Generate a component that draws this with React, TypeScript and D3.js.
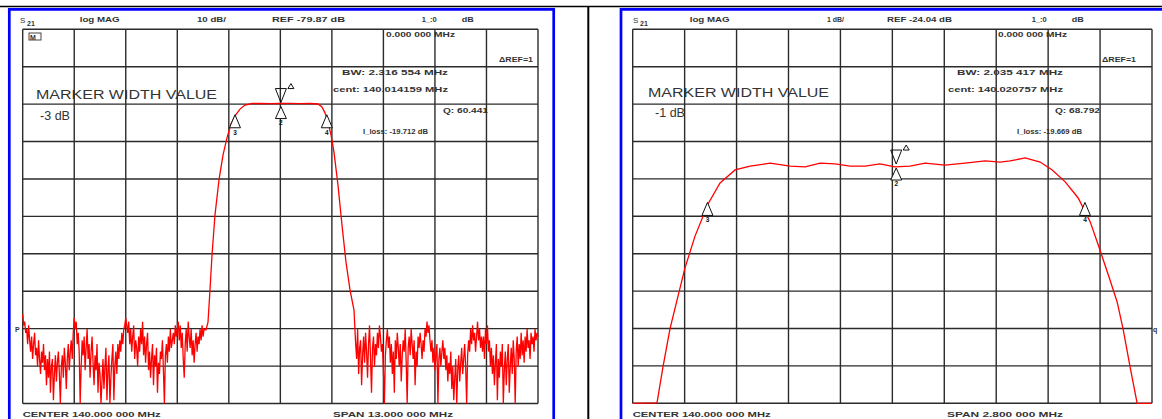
import React from 'react';
import * as d3 from 'd3';

// ---------- DATA ----------
// Left panel: 10 dB/div, REF -79.87 dB, center 140 MHz, span 13 MHz
const leftCenter = 140.0;
const leftSpan = 13.0;
const leftDbPerDiv = 10;
const leftRef = -79.87;
const noiseStep = 0.025;
const leftNoiseStart = 133.5;
const leftNoiseDb = [
  -76, -79, -78, -81, -80, -84, -79, -83, -86, -82, -88, -84, -81, -87, -85, -90, -83, -88, -92, -86, -89, -84, -91, -87, -95, -88,
  -93, -86, -97, -90, -88, -99, -92, -87, -94, -89, -86, -92, -100, -90, -87, -93, -85, -89, -96, -88, -84, -91, -86, -83, -88, -81,
  -77, -80, -78, -84, -81, -86, -100, -90, -83, -87, -82, -91, -85, -80, -88, -84, -93, -86, -82, -89, -95, -87, -91, -84, -97, -89,
  -92, -100, -94, -88, -96, -90, -85, -99, -91, -87, -100, -93, -88, -84, -99, -90, -86, -92, -84, -88, -83, -86, -81, -84, -80, -79,
  -77, -79, -81, -78, -84, -80, -86, -82, -79, -88, -83, -85, -90, -82, -86, -80, -84, -78, -87, -82, -89, -84, -81, -91, -86, -93,
  -88, -84, -95, -87, -90, -85, -97, -89, -92, -86, -88, -83, -91, -100, -87, -84, -89, -82, -86, -80, -85, -83, -81, -84, -79, -82,
  -80, -78, -83, -79, -85, -81, -88, -93, -84, -80, -86, -78, -82, -85, -80, -87, -83, -89, -84, -81, -86, -82, -84, -80, -83, -79, -82, -80,
];
const leftSkirtFreq = [138.124, 138.175, 138.225, 138.276, 138.351, 138.452, 138.553, 138.654, 138.755, 138.856, 138.982, 139.108, 139.285, 139.5, 139.75, 140.0, 140.25, 140.5, 140.75, 140.95, 141.05, 141.126, 141.2, 141.278, 141.353, 141.454, 141.555, 141.656, 141.757, 141.858];
const leftSkirtDb = [-80.2, -78.1, -69.5, -60.2, -49.5, -40.1, -33.5, -28.9, -25.2, -23.0, -21.2, -20.1, -19.7, -19.68, -19.72, -19.7, -19.69, -19.72, -19.7, -19.83, -20.6, -22.2, -24.6, -28.1, -32.7, -41.5, -52.2, -62.1, -69.5, -74.9];
const rightNoiseStart = 141.9;
const rightNoiseDb = [
  -84, -88, -80, -92, -85, -83, -95, -87, -82, -89, -81, -86, -93, -84, -79, -88, -97, -85, -82, -90, -84, -87, -81, -85,
  -79, -82, -86, -84, -91, -100, -87, -83, -80, -85, -82, -89, -84, -92, -86, -97, -83, -88, -81, -85, -90, -84, -94, -87, -83, -86,
  -80, -89, -100, -85, -82, -87, -80, -84, -88, -83, -95, -86, -90, -82, -85, -81, -84, -88, -83, -86, -80, -82, -78, -81, -79, -83,
  -86, -83, -89, -85, -91, -87, -84, -100, -88, -85, -90, -86, -83, -88, -85, -91, -87, -94, -89, -92, -86, -96, -90, -99, -93, -88,
  -100, -91, -87, -94, -89, -85, -92, -88, -84, -90, -100, -87, -83, -86, -80, -84, -79, -83, -81, -86, -82, -78, -83, -80, -85, -82,
  -86, -82, -88, -80, -84, -79, -86, -83, -90, -85, -92, -87, -95, -89, -84, -99, -88, -93, -86, -90, -84, -100, -91, -86, -95, -88,
  -84, -97, -90, -85, -92, -83, -88, -100, -86, -82, -90, -84, -88, -81, -87, -83, -89, -82, -86, -80, -85, -83, -88, -81, -84, -82,
  -86, -80, -83, -81, -82,
];

// Right panel: 1 dB/div, REF -24.04 dB, center 140 MHz, span 2.8 MHz
const rightCenter = 140.0;
const rightSpan = 2.8;
const rightDbPerDiv = 1;
const rightRef = -24.04;
const rightFreq = [138.6, 138.731, 138.763, 138.801, 138.839, 138.882, 138.936, 139.006, 139.071, 139.152, 139.233, 139.341, 139.449, 139.53, 139.61, 139.691, 139.772, 139.853, 139.933, 140.014, 140.095, 140.177, 140.284, 140.392, 140.5, 140.581, 140.635, 140.716, 140.797, 140.862, 140.932, 141.002, 141.067, 141.12, 141.174, 141.212, 141.244, 141.282, 141.32, 141.4];
const rightDb = [-26.04, -26.03, -25.07, -24.05, -23.28, -22.42, -21.57, -20.71, -20.15, -19.8, -19.7, -19.62, -19.7, -19.72, -19.62, -19.64, -19.7, -19.7, -19.64, -19.72, -19.7, -19.62, -19.67, -19.62, -19.56, -19.59, -19.56, -19.48, -19.59, -19.8, -20.12, -20.55, -21.19, -21.95, -22.75, -23.33, -24.05, -25.07, -26.04, -26.04];

// Marker readouts
const leftBW = 2.316554;
const leftCent = 140.014159;
const leftQ = '60.441';
const leftLoss = -19.712;
const leftWidthValue = -3;
const rightBW = 2.035417;
const rightCent = 140.020757;
const rightQ = '68.792';
const rightLoss = -19.669;
const rightWidthValue = -1;

const markerLabels = ['1', '2', '3', '4'];

// ---------- COMPONENT ----------
const FONT = '"Liberation Sans", Arial, sans-serif';
const RED = '#ff0000';
const GRID = '#2b2b2b';
const TXT = '#333';

type PanelProps = {
  gx0: number; gx1: number; gy0: number; gy1: number;
  center: number; span: number; dbPerDiv: number; refDb: number;
  trace: [number, number][];
  bw: number; cent: number; loss: number; widthValue: number;
  texts: { s: string; x: number; w: number; y: number; size?: number; weight?: string }[];
};

function Panel(p: PanelProps) {
  const fMin = p.center - p.span / 2;
  const fMax = p.center + p.span / 2;
  const dbTop = p.refDb + 8 * p.dbPerDiv;
  const dbBot = p.refDb - 2 * p.dbPerDiv;
  const x = d3.scaleLinear().domain([fMin, fMax]).range([p.gx0, p.gx1]);
  const y = d3.scaleLinear().domain([dbBot, dbTop]).range([p.gy1, p.gy0]).clamp(true);
  const line = d3.line<[number, number]>().x(d => x(d[0])).y(d => y(d[1]));
  const divs = d3.range(11);
  const markerDb = p.loss + p.widthValue;
  const m3 = p.cent - p.bw / 2;
  const m4 = p.cent + p.bw / 2;
  const up = (cx: number, cy: number, w: number, h: number) => `M${cx},${cy}L${cx - w / 2},${cy + h}L${cx + w / 2},${cy + h}Z`;
  const down = (cx: number, cy: number, w: number, h: number) => `M${cx},${cy}L${cx - w / 2},${cy - h}L${cx + w / 2},${cy - h}Z`;
  const cx = x(p.cent);
  const cy = y(p.loss);
  return (
    <g>
      {divs.map(i => (
        <line key={'v' + i} x1={x(fMin + (i * p.span) / 10)} x2={x(fMin + (i * p.span) / 10)} y1={p.gy0} y2={p.gy1} stroke={GRID} strokeWidth={1.4} />
      ))}
      {divs.map(i => (
        <line key={'h' + i} y1={y(dbBot + i * p.dbPerDiv)} y2={y(dbBot + i * p.dbPerDiv)} x1={p.gx0} x2={p.gx1} stroke={GRID} strokeWidth={1.4} />
      ))}
      {p.texts.map((t, i) => (
        <text key={'t' + i} x={t.x} y={t.y} textLength={t.w} lengthAdjust="spacingAndGlyphs" fontFamily={FONT}
          fontSize={t.size ?? 7} fontWeight={t.weight ?? 'bold'} fill={TXT}>{t.s}</text>
      ))}
      <path d={line(p.trace) ?? ''} fill="none" stroke={RED} strokeWidth={1.3} />
      {/* markers */}
      <path d={down(cx, cy - 1, 11, 14)} fill="none" stroke="#111" strokeWidth={1} />
      <path d={up(cx + 10, cy - 20, 6, 5)} fill="none" stroke="#111" strokeWidth={1} />
      <path d={up(cx, cy + 3, 11, 12)} fill="white" stroke="#111" strokeWidth={1} />
      <text x={cx} y={cy + 21} fontFamily={FONT} fontSize={6.5} fontWeight="bold" textAnchor="middle" fill="#111">{markerLabels[1]}</text>
      {[m3, m4].map((f, i) => (
        <g key={'m' + i}>
          <path d={up(x(f), y(markerDb), 11, 13)} fill="white" stroke="#111" strokeWidth={1} />
          <text x={x(f)} y={y(markerDb) + 20} fontFamily={FONT} fontSize={6.5} fontWeight="bold" textAnchor="middle" fill="#111">{markerLabels[2 + i]}</text>
        </g>
      ))}
    </g>
  );
}

const fmt6 = (v: number) => {
  const s = v.toFixed(6);
  const [a, b] = s.split('.');
  return `${a}.${b.slice(0, 3)} ${b.slice(3)}`;
};

export default function App() {
  const leftTrace: [number, number][] = [
    ...leftNoiseDb.map((d, i) => [leftNoiseStart + i * noiseStep, d] as [number, number]),
    ...leftSkirtFreq.map((f, i) => [f, leftSkirtDb[i]] as [number, number]),
    ...rightNoiseDb.map((d, i) => [rightNoiseStart + i * noiseStep, d] as [number, number]),
  ];
  const rightTrace: [number, number][] = rightFreq.map((f, i) => [f, rightDb[i]]);

  const common = (ox: number, bw: number, cent: number, q: string, loss: number, wv: number, dbdiv: string, ref: string, span: string, offs: any) => [
    { s: 'log MAG', x: ox + 57, w: 40, y: 22 },
    { s: dbdiv, x: offs.dbdiv, w: offs.dbdivW, y: 22 },
    { s: ref, x: offs.ref, w: offs.refW, y: 22 },
    { s: '1_:0', x: ox + 399, w: 15, y: 22 },
    { s: 'dB', x: ox + 439, w: 12, y: 22 },
    { s: '0.000 000 MHz', x: offs.zero, w: 69, y: 37 },
    { s: '\u0394REF=1', x: offs.dref, w: 34, y: 62 },
    { s: `BW:   ${fmt6(bw)} MHz`, x: offs.bw, w: 106, y: 75 },
    { s: `cent:  ${cent.toFixed(6)} MHz`, x: offs.cent, w: 115, y: 92 },
    { s: `Q: ${q}`, x: offs.q, w: 45, y: 113 },
    { s: `I_loss: ${loss.toFixed(3)} dB`, x: offs.loss, w: 65, y: 134 },
    { s: 'MARKER WIDTH VALUE', x: offs.mwv, w: 181, y: offs.mwvY, size: 12.5, weight: 'normal' },
    { s: `${wv} dB`, x: offs.wv, w: 30, y: offs.wvY, size: 12.5, weight: 'normal' },
    { s: `CENTER  ${fmt6(140)} MHz`, x: ox, w: 138, y: 417 },
    { s: `SPAN   ${span}`, x: offs.span, w: offs.spanW, y: 417 },
  ];

  const leftTexts = common(22.7, leftBW, leftCent, leftQ, leftLoss, leftWidthValue, `${leftDbPerDiv} dB/`, `REF ${leftRef} dB`, `${fmt6(leftSpan)} MHz`, {
    dbdiv: 197, dbdivW: 29, ref: 272, refW: 73, zero: 386, dref: 499, bw: 342, cent: 333, q: 443, loss: 363,
    mwv: 36, mwvY: 99, wv: 40, wvY: 120, span: 333, spanW: 120,
  });
  const rightTexts = common(632.7, rightBW, rightCent, rightQ, rightLoss, rightWidthValue, `${rightDbPerDiv} dB/`, `REF ${rightRef} dB`, `${fmt6(rightSpan)} MHz`, {
    dbdiv: 827, dbdivW: 17, ref: 887, refW: 65, zero: 998, dref: 1102, bw: 957, cent: 948, q: 1055, loss: 1017,
    mwv: 648, mwvY: 97, wv: 655, wvY: 117, span: 947, spanW: 116,
  });

  return (
    <svg width={1162} height={419} style={{ position: 'absolute', left: 0, top: 0, background: 'white' }}>
      <rect x={0} y={0} width={1162} height={419} fill="white" />
      {/* table frame */}
      <line x1={0} x2={1162} y1={6.5} y2={6.5} stroke="#000" strokeWidth={1.6} />
      <line x1={588.3} x2={588.3} y1={6} y2={419} stroke="#000" strokeWidth={2} />
      {/* blue panel borders */}
      <path d="M9.3,430 L9.3,9.3 L553.7,9.3 L553.7,430" fill="none" stroke="#0000ff" strokeWidth={2.7} />
      <path d="M621,430 L621,9.3 L1170,9.3" fill="none" stroke="#0000ff" strokeWidth={2.7} />

      <Panel gx0={22.7} gx1={538} gy0={29.3} gy1={403.5} center={leftCenter} span={leftSpan} dbPerDiv={leftDbPerDiv} refDb={leftRef}
        trace={leftTrace} bw={leftBW} cent={leftCent} loss={leftLoss} widthValue={leftWidthValue} texts={leftTexts} />
      <Panel gx0={632.7} gx1={1152} gy0={29.3} gy1={403.3} center={rightCenter} span={rightSpan} dbPerDiv={rightDbPerDiv} refDb={rightRef}
        trace={rightTrace} bw={rightBW} cent={rightCent} loss={rightLoss} widthValue={rightWidthValue} texts={rightTexts} />

      {/* S21 labels */}
      {[20, 633].map((sx, i) => (
        <g key={'s' + i}>
          <text x={sx} y={23} fontFamily={FONT} fontSize={8} fill={TXT}>S</text>
          <text x={sx + 7} y={26} fontFamily={FONT} fontSize={7} fontWeight="bold" fill={TXT}>21</text>
        </g>
      ))}
      {/* small marker icon */}
      <rect x={29} y={33} width={12} height={7} fill="none" stroke="#444" strokeWidth={1} />
      <text x={30} y={39.5} fontFamily={FONT} fontSize={7} fontWeight="bold" fill="#333">M</text>
      {/* reference position indicators */}
      <text x={15} y={332} fontFamily={FONT} fontSize={7} fontWeight="bold" fill={TXT}>P</text>
      <text x={1153} y={332} fontFamily={FONT} fontSize={7} fontWeight="bold" fill={TXT}>q</text>
    </svg>
  );
}
